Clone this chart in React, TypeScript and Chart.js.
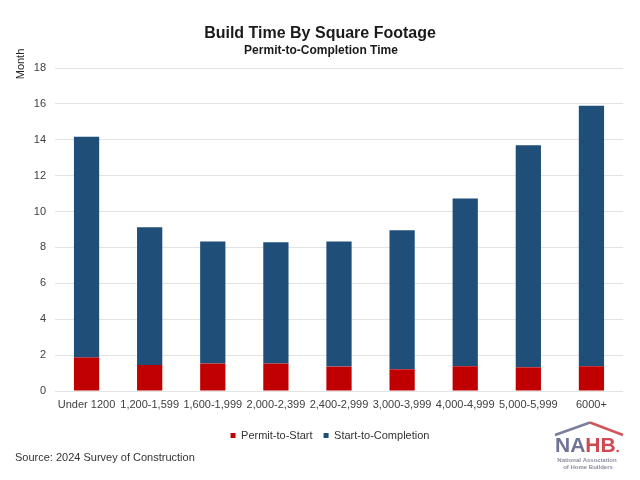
import React, { useEffect, useRef } from 'react';
import { Chart, registerables } from 'chart.js';

Chart.register(...registerables);

const categories = ['Under 1200', '1,200-1,599', '1,600-1,999', '2,000-2,399', '2,400-2,999', '3,000-3,999', '4,000-4,999', '5,000-5,999', '6000+'];
const permitToStart = [1.87, 1.45, 1.53, 1.53, 1.36, 1.21, 1.38, 1.32, 1.38];
const startToCompletion = [12.3, 7.68, 6.8, 6.76, 6.97, 7.75, 9.35, 12.38, 14.52];
const seriesNames = ['Permit-to-Start', 'Start-to-Completion'];
const yMin = 0;
const yMax = 18;
const yStep = 2;
const titleText = 'Build Time By Square Footage';
const subtitleText = 'Permit-to-Completion Time';
const yAxisLabel = 'Month';
const sourceText = 'Source: 2024 Survey of Construction';
const logoLines = ['National Association', 'of Home Builders'];

const FONT = '"Liberation Sans", Arial, sans-serif';

const legendShiftPlugin = {
  id: 'legendShift',
  afterLayout(chart: any) {
    const lg = chart.legend;
    if (lg) {
      lg.left = 37;
      lg.right = 623;
    }
  },
};

const textPlugin = {
  id: 'extraText',
  afterDraw(chart: any) {
    const ctx = chart.ctx as CanvasRenderingContext2D;
    ctx.save();
    ctx.fillStyle = '#1a1a1a';
    ctx.textAlign = 'center';
    ctx.textBaseline = 'alphabetic';
    ctx.font = `bold 16px ${FONT}`;
    ctx.fillText(titleText, 320, 38);
    ctx.font = `bold 12px ${FONT}`;
    ctx.fillText(subtitleText, 321, 53.5);

    // y axis label
    ctx.save();
    ctx.translate(24, 64);
    ctx.rotate(-Math.PI / 2);
    ctx.font = `11px ${FONT}`;
    ctx.fillStyle = '#262626';
    ctx.fillText(yAxisLabel, 0, 0);
    ctx.restore();

    // source
    ctx.textAlign = 'left';
    ctx.font = `11px ${FONT}`;
    ctx.fillStyle = '#333333';
    ctx.fillText(sourceText, 15, 461);

    // NAHB logo
    ctx.lineWidth = 2.5;
    ctx.strokeStyle = '#7b7f9e';
    ctx.beginPath();
    ctx.moveTo(555, 435);
    ctx.lineTo(590, 422.5);
    ctx.stroke();
    ctx.strokeStyle = '#d2555a';
    ctx.beginPath();
    ctx.moveTo(590, 422.5);
    ctx.lineTo(623, 435);
    ctx.stroke();
    ctx.font = `bold 21px ${FONT}`;
    ctx.textAlign = 'left';
    ctx.fillStyle = '#6f7396';
    ctx.fillText('NA', 555, 452);
    const w = ctx.measureText('NA').width;
    ctx.fillStyle = '#cf4a50';
    ctx.fillText('HB', 555 + w, 452);
    const w2 = ctx.measureText('HB').width;
    ctx.beginPath();
    ctx.arc(555 + w + w2 + 2, 451, 1.3, 0, Math.PI * 2);
    ctx.fill();
    ctx.fillStyle = '#8c8ea3';
    ctx.textAlign = 'center';
    ctx.font = `bold 6px ${FONT}`;
    ctx.fillText(logoLines[0], 587, 462);
    ctx.fillText(logoLines[1], 588, 469);
    ctx.restore();
  },
};

export default function App() {
  const canvasRef = useRef<HTMLCanvasElement | null>(null);

  useEffect(() => {
    if (!canvasRef.current) return;
    Chart.defaults.font.family = FONT;
    const chart = new Chart(canvasRef.current, {
      type: 'bar',
      data: {
        labels: categories,
        datasets: [
          {
            label: seriesNames[0],
            data: permitToStart,
            backgroundColor: '#C00000',
            borderWidth: 0,
            categoryPercentage: 1,
            barPercentage: 0.4,
          },
          {
            label: seriesNames[1],
            data: startToCompletion,
            backgroundColor: '#1F4E79',
            borderWidth: 0,
            categoryPercentage: 1,
            barPercentage: 0.4,
          },
        ],
      },
      options: {
        responsive: false,
        animation: false,
        devicePixelRatio: 1,
        layout: { padding: { top: 68, left: 0, right: 17, bottom: 29 } },
        plugins: {
          title: { display: false },
          tooltip: { enabled: false },
          legend: {
            display: true,
            position: 'bottom',
            labels: {
              boxWidth: 5,
              boxHeight: 5,
              padding: 11,
              color: '#333333',
              font: { size: 11, family: FONT },
            },
          },
        },
        scales: {
          x: {
            stacked: true,
            grid: { display: false, drawTicks: false },
            border: { display: false },
            ticks: { color: '#404040', font: { size: 11, family: FONT }, padding: 7, maxRotation: 0, autoSkip: false },
            afterFit: (s: any) => { s.height = 28; },
          },
          y: {
            stacked: true,
            min: yMin,
            max: yMax,
            grid: { color: '#e3e3e3', lineWidth: 1, drawTicks: false },
            border: { display: false },
            ticks: { stepSize: yStep, color: '#404040', font: { size: 11, family: FONT }, padding: 9 },
            afterFit: (s: any) => { s.width = 55; },
          },
        },
      },
      plugins: [legendShiftPlugin, textPlugin],
    });
    return () => chart.destroy();
  }, []);

  return (
    <div style={{ position: 'fixed', left: 0, top: 0, width: 640, height: 480, background: '#ffffff' }}>
      <canvas ref={canvasRef} width={640} height={480} />
    </div>
  );
}
